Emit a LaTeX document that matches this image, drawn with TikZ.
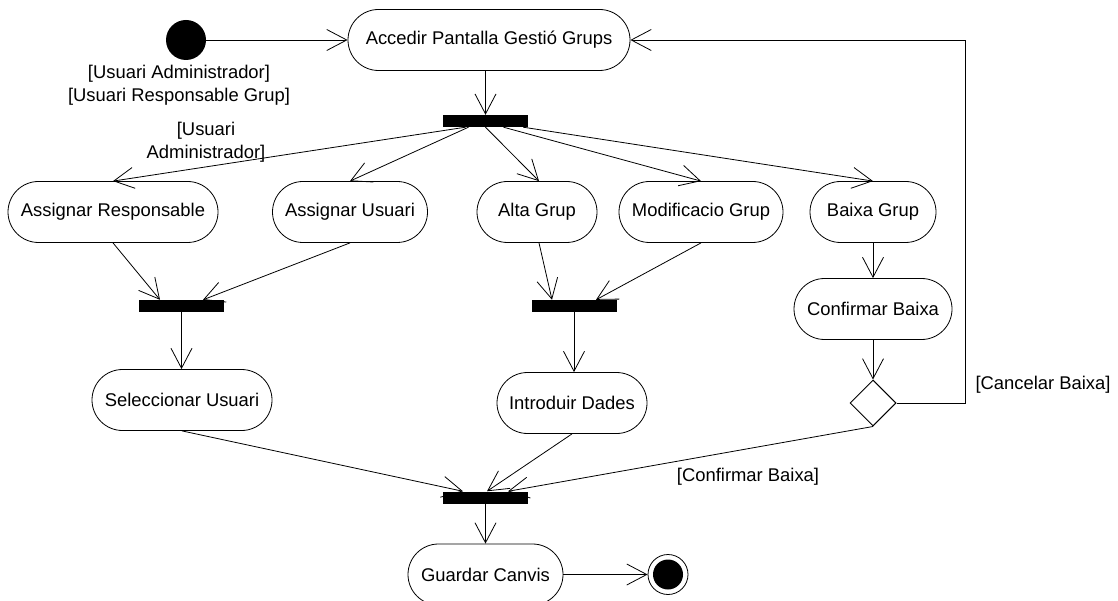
\documentclass[tikz,border=0pt]{standalone}
\usepackage{fontspec}
\setmainfont{Liberation Sans}
\usetikzlibrary{arrows.meta,shapes.geometric}
\begin{document}
\begin{tikzpicture}[x=1pt,y=-1pt,
  every node/.style={font=\fontsize{18.4pt}{23pt}\selectfont},
  act/.style={draw,line width=0.8pt,rounded corners=30.5pt,minimum height=61pt,inner sep=0pt},
  bar/.style={fill=black,draw=none,minimum width=85pt,minimum height=12pt,inner sep=0pt},
  arr/.style={line width=0.8pt,-{Straight Barb[length=20pt,width=21pt]}},
  guard/.style={align=center,inner sep=0pt}]
\useasboundingbox (0,0) rectangle (1118,601);
\clip (0,0) rectangle (1118,601);
% nodes
\node[circle,fill=black,minimum size=40pt,inner sep=0pt] (start) at (186,40) {};
\node[act,minimum width=282pt] (acc) at (489,40) {Accedir Pantalla Gestió Grups};
\node[bar] (b1) at (485.5,121) {};
\node[act,minimum width=210pt] (ar) at (113,212) {Assignar Responsable};
\node[act,minimum width=155pt] (au) at (350,212) {Assignar Usuari};
\node[act,minimum width=120pt] (ag) at (537,212) {Alta Grup};
\node[act,minimum width=164pt] (mg) at (701,212) {Modificacio Grup};
\node[act,minimum width=126pt] (bg) at (873,212) {Baixa Grup};
\node[act,minimum width=158pt] (cb) at (873,309) {Confirmar Baixa};
\node[bar] (b2) at (181.5,306) {};
\node[bar] (b3) at (574,306) {};
\node[act,minimum width=180pt] (su) at (182,400) {Seleccionar Usuari};
\node[act,minimum width=150pt] (id) at (572,403) {Introduir Dades};
\node[diamond,draw,line width=1pt,minimum width=46pt,minimum height=46pt,inner sep=0pt] (dec) at (873,403) {};
\node[bar] (b4) at (485.5,497.5) {};
\node[act,minimum width=155pt] (gc) at (485.5,574.5) {Guardar Canvis};
\node[circle,draw,line width=0.8pt,minimum size=40pt,inner sep=0pt] (end) at (668,574.5) {};
\node[circle,fill=black,minimum size=30pt,inner sep=0pt] (endin) at (end.center) {};
% labels
\node[guard] (g1) at (179,85.5) {{[Usuari Administrador]}\\{[Usuari Responsable Grup]}};
\node[guard] (g2) at (206,142) {{[Usuari}\\{Administrador]}};
\node (g3) at (1043,385) {[Cancelar Baixa]};
\node (g4) at (748,477) {[Confirmar Baixa]};
% connectors
\draw[arr] (start) -- (acc);
\draw[arr] (b1.north |- acc.south) -- (b1.north);
\draw[arr] ([xshift=-20pt]b1.south) -- (ar.north);
\draw[arr] ([xshift=-17pt]b1.south) -- (au.north);
\draw[arr] (b1.south) -- ([xshift=2pt]ag.north);
\draw[arr] ([xshift=18pt]b1.south) -- (mg.north);
\draw[arr] ([xshift=-5pt]b1.south east) -- (bg.north);
\draw[arr] (ar.south) -- ([xshift=-21.5pt]b2.north);
\draw[arr] (au.south) -- ([xshift=21.5pt]b2.north);
\draw[arr] ([xshift=2pt]ag.south) -- ([xshift=-22pt]b3.north);
\draw[arr] (mg.south) -- ([xshift=22pt]b3.north);
\draw[arr] (bg) -- (cb);
\draw[arr] (b2.south) -- (b2.south |- su.north);
\draw[arr] (b3.south) -- (b3.south |- id.north);
\draw[arr] (cb) -- (dec);
\draw[arr] (su.south) -- ([xshift=-22.5pt]b4.north);
\draw[arr] (id.south) -- ([xshift=1.5pt]b4.north);
\draw[arr] (dec.south) -- ([xshift=22.5pt]b4.north);
\draw[arr] (b4) -- (gc);
\draw[arr] (gc) -- (end);
\draw[arr] (dec.east) -- ++(69,0) |- (acc.east);
\end{tikzpicture}
\end{document}
